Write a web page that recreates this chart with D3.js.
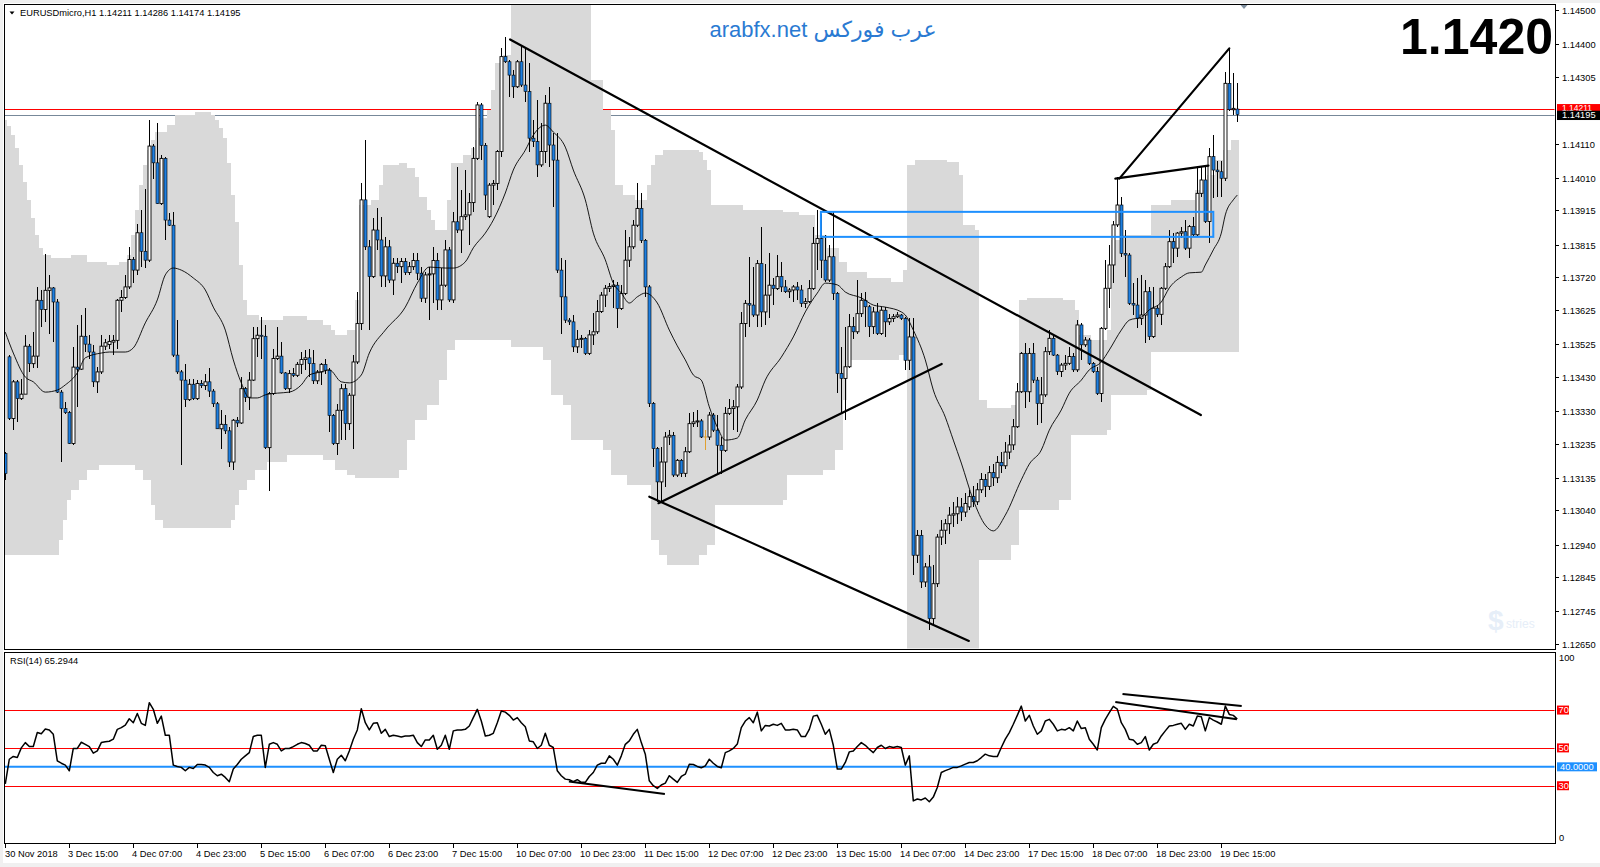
<!DOCTYPE html>
<html><head><meta charset="utf-8">
<script src="https://cdn.jsdelivr.net/npm/d3@7"></script>
<style>html,body{margin:0;padding:0;background:#fff}svg{display:block}</style>
</head><body>
<svg id="c" width="1600" height="867"></svg>
<script>
// ---------------- DATA (EURUSDmicro H1, bars from 30 Nov 23:00) ----------------
const open = [
1.13206,1.13488,1.13308,1.13415,1.13366,1.13379,1.13519,1.13468,1.13490,1.13653,
1.13626,1.13682,1.13689,1.13648,1.13385,1.13337,1.13325,1.13235,1.13458,1.13452,
1.13548,1.13525,1.13502,1.13415,1.13444,1.13519,1.13524,1.13531,1.13536,1.13653,
1.13661,1.13692,1.13772,1.13741,1.13850,1.13796,1.13770,1.14103,1.14054,1.13935,
1.14067,1.13887,1.13872,1.13493,1.13444,1.13420,1.13363,1.13408,1.13366,1.13410,
1.13404,1.13415,1.13388,1.13351,1.13278,1.13291,1.13272,1.13181,1.13303,1.13295,
1.13395,1.13370,1.13420,1.13541,1.13551,1.13548,1.13223,1.13381,1.13483,1.13490,
1.13441,1.13395,1.13439,1.13434,1.13466,1.13480,1.13485,1.13468,1.13418,1.13444,
1.13466,1.13449,1.13317,1.13235,1.13332,1.13395,1.13293,1.13376,1.13473,1.13585,
1.13946,1.13809,1.13722,1.13858,1.13829,1.13724,1.13809,1.13712,1.13761,1.13751,
1.13766,1.13734,1.13751,1.13769,1.13732,1.13659,1.13727,1.13730,1.13769,1.13654,
1.13697,1.13800,1.13654,1.13882,1.13858,1.13897,1.13902,1.13938,1.14067,1.14223,
1.14105,1.13897,1.13989,1.13994,1.14087,1.14364,1.14349,1.14310,1.14276,1.14349,
1.14281,1.14262,1.14126,1.14116,1.14048,1.14087,1.14228,1.14106,1.14062,1.13741,
1.13663,1.13595,1.13590,1.13517,1.13539,1.13542,1.13498,1.13552,1.13561,1.13620,
1.13668,1.13688,1.13693,1.13697,1.13629,1.13673,1.13770,1.13809,1.13872,1.13921,
1.13828,1.13692,1.13352,1.13220,1.13123,1.13181,1.13254,1.13259,1.13143,1.13186,
1.13148,1.13211,1.13293,1.13298,1.13301,1.13254,1.13254,1.13318,1.13274,1.13230,
1.13215,1.13323,1.13337,1.13342,1.13400,1.13585,1.13644,1.13639,1.13610,1.13760,
1.13619,1.13668,1.13697,1.13687,1.13722,1.13692,1.13678,1.13683,1.13692,1.13683,
1.13644,1.13649,1.13687,1.13819,1.13833,1.13770,1.13712,1.13780,1.13673,1.13439,
1.13425,1.13459,1.13576,1.13561,1.13614,1.13653,1.13634,1.13576,1.13619,1.13556,
1.13624,1.13590,1.13600,1.13605,1.13610,1.13600,1.13478,1.13546,1.12909,1.12967,
1.12831,1.12875,1.12724,1.12826,1.12962,1.12982,1.13001,1.13026,1.13030,1.13050,
1.13035,1.13050,1.13080,1.13065,1.13100,1.13130,1.13110,1.13150,1.13135,1.13180,
1.13170,1.13210,1.13231,1.13284,1.13386,1.13498,1.13386,1.13498,1.13420,1.13352,
1.13377,1.13503,1.13542,1.13493,1.13445,1.13464,1.13469,1.13489,1.13450,1.13581,
1.13523,1.13537,1.13469,1.13445,1.13381,1.13571,1.13688,1.13756,1.13873,1.13931,
1.13790,1.13785,1.13644,1.13639,1.13600,1.13610,1.13678,1.13547,1.13630,1.13612,
1.13688,1.13751,1.13824,1.13805,1.13849,1.13853,1.13805,1.13868,1.13844,1.13965,
1.14004,1.13883,1.14072,1.14033,1.14028,1.14009,1.14286,1.14209,1.14211];
const high = [
1.13210,1.13493,1.13420,1.13420,1.13424,1.13551,1.13525,1.13561,1.13692,1.13682,
1.13789,1.13726,1.13692,1.13658,1.13390,1.13356,1.13330,1.13517,1.13580,1.13609,
1.13629,1.13551,1.13522,1.13458,1.13551,1.13541,1.13551,1.13551,1.13658,1.13682,
1.13726,1.13809,1.13780,1.13877,1.13916,1.13979,1.14179,1.14110,1.14169,1.14076,
1.14072,1.13908,1.13911,1.13595,1.13449,1.13468,1.13424,1.13424,1.13420,1.13420,
1.13439,1.13454,1.13395,1.13356,1.13332,1.13317,1.13283,1.13308,1.13313,1.13429,
1.13400,1.13444,1.13575,1.13575,1.13604,1.13580,1.13385,1.13512,1.13575,1.13531,
1.13444,1.13449,1.13454,1.13473,1.13502,1.13507,1.13512,1.13507,1.13449,1.13470,
1.13483,1.13454,1.13322,1.13351,1.13410,1.13410,1.13381,1.13493,1.13677,1.13994,
1.14121,1.13829,1.13892,1.13921,1.13897,1.13839,1.13829,1.13775,1.13775,1.13775,
1.13775,1.13766,1.13790,1.13790,1.13751,1.13736,1.13751,1.13809,1.13790,1.13746,
1.13829,1.13809,1.13912,1.14043,1.13975,1.14033,1.13965,1.14101,1.14233,1.14228,
1.14111,1.13994,1.14004,1.14092,1.14388,1.14422,1.14354,1.14325,1.14354,1.14398,
1.14393,1.14345,1.14179,1.14237,1.14169,1.14252,1.14276,1.14140,1.14140,1.13775,
1.13771,1.13600,1.13610,1.13566,1.13552,1.13545,1.13566,1.13615,1.13654,1.13678,
1.13697,1.13702,1.13712,1.13707,1.13697,1.13858,1.13838,1.13887,1.13994,1.13965,
1.13833,1.13697,1.13356,1.13225,1.13225,1.13269,1.13274,1.13269,1.13191,1.13191,
1.13225,1.13323,1.13327,1.13332,1.13308,1.13274,1.13327,1.13323,1.13318,1.13254,
1.13342,1.13366,1.13361,1.13410,1.13619,1.13653,1.13780,1.13751,1.13770,1.13867,
1.13760,1.13790,1.13717,1.13785,1.13765,1.13712,1.13690,1.13697,1.13707,1.13697,
1.13660,1.13712,1.13867,1.13916,1.13906,1.13843,1.13814,1.13911,1.13678,1.13517,
1.13576,1.13614,1.13605,1.13712,1.13673,1.13678,1.13639,1.13634,1.13644,1.13634,
1.13634,1.13614,1.13614,1.13619,1.13614,1.13605,1.13600,1.13600,1.12982,1.12982,
1.12885,1.12909,1.12880,1.12972,1.13011,1.13016,1.13050,1.13065,1.13080,1.13075,
1.13090,1.13100,1.13110,1.13120,1.13150,1.13145,1.13170,1.13175,1.13200,1.13210,
1.13240,1.13260,1.13308,1.13411,1.13503,1.13527,1.13513,1.13527,1.13430,1.13430,
1.13518,1.13566,1.13552,1.13497,1.13469,1.13493,1.13518,1.13498,1.13595,1.13586,
1.13547,1.13542,1.13474,1.13459,1.13576,1.13771,1.13815,1.13883,1.14014,1.13955,
1.13858,1.13790,1.13703,1.13717,1.13727,1.13712,1.13693,1.13693,1.13639,1.13693,
1.13761,1.13858,1.13849,1.13853,1.13868,1.13888,1.13873,1.13897,1.14043,1.14043,
1.14043,1.14097,1.14136,1.14058,1.14058,1.14320,1.14388,1.14316,1.14286];
const low = [
1.13128,1.13303,1.13274,1.13298,1.13361,1.13379,1.13444,1.13454,1.13454,1.13575,
1.13590,1.13556,1.13531,1.13381,1.13181,1.13322,1.13233,1.13230,1.13342,1.13449,
1.13502,1.13483,1.13400,1.13381,1.13439,1.13507,1.13512,1.13493,1.13512,1.13619,
1.13658,1.13687,1.13702,1.13726,1.13750,1.13746,1.13765,1.14008,1.13933,1.13930,
1.13828,1.13869,1.13488,1.13439,1.13171,1.13342,1.13359,1.13363,1.13361,1.13398,
1.13390,1.13371,1.13342,1.13276,1.13220,1.13264,1.13167,1.13157,1.13283,1.13293,
1.13356,1.13332,1.13418,1.13488,1.13483,1.13220,1.13096,1.13376,1.13478,1.13439,
1.13390,1.13381,1.13429,1.13429,1.13439,1.13449,1.13429,1.13410,1.13410,1.13405,
1.13439,1.13269,1.13230,1.13201,1.13244,1.13244,1.13274,1.13220,1.13468,1.13566,
1.13800,1.13566,1.13717,1.13800,1.13693,1.13693,1.13702,1.13668,1.13732,1.13702,
1.13727,1.13727,1.13741,1.13712,1.13649,1.13644,1.13595,1.13644,1.13624,1.13624,
1.13693,1.13649,1.13644,1.13848,1.13790,1.13887,1.13814,1.13912,1.14062,1.14062,
1.13916,1.13892,1.13931,1.13975,1.14072,1.14345,1.14247,1.14242,1.14272,1.14276,
1.14233,1.14087,1.14101,1.14014,1.14043,1.14053,1.14043,1.13926,1.13732,1.13556,
1.13586,1.13580,1.13503,1.13498,1.13513,1.13493,1.13493,1.13522,1.13556,1.13615,
1.13634,1.13678,1.13629,1.13571,1.13624,1.13668,1.13751,1.13804,1.13867,1.13819,
1.13663,1.13342,1.13167,1.13065,1.13060,1.13109,1.13230,1.13138,1.13138,1.13138,
1.13138,1.13206,1.13284,1.13284,1.13250,1.13215,1.13245,1.13269,1.13147,1.13147,
1.13211,1.13318,1.13274,1.13269,1.13395,1.13546,1.13576,1.13605,1.13576,1.13576,
1.13580,1.13600,1.13639,1.13682,1.13678,1.13673,1.13660,1.13649,1.13653,1.13634,
1.13630,1.13644,1.13683,1.13741,1.13717,1.13707,1.13707,1.13653,1.13381,1.13323,
1.13303,1.13455,1.13541,1.13556,1.13605,1.13576,1.13546,1.13556,1.13551,1.13551,
1.13546,1.13580,1.13590,1.13600,1.13595,1.13449,1.13449,1.12851,1.12885,1.12812,
1.12817,1.12690,1.12705,1.12817,1.12938,1.12943,1.12972,1.12992,1.13000,1.13010,
1.13020,1.13040,1.13050,1.13055,1.13090,1.13080,1.13100,1.13110,1.13120,1.13150,
1.13160,1.13190,1.13216,1.13279,1.13381,1.13338,1.13357,1.13411,1.13289,1.13294,
1.13372,1.13493,1.13489,1.13435,1.13430,1.13450,1.13464,1.13445,1.13445,1.13479,
1.13518,1.13464,1.13440,1.13377,1.13357,1.13566,1.13630,1.13703,1.13868,1.13780,
1.13722,1.13639,1.13610,1.13571,1.13581,1.13527,1.13537,1.13542,1.13605,1.13581,
1.13683,1.13746,1.13761,1.13780,1.13834,1.13800,1.13775,1.13839,1.13839,1.13955,
1.13878,1.13819,1.13950,1.13955,1.13955,1.14000,1.14204,1.14194,1.14174];
const close = [
1.13147,1.13308,1.13415,1.13366,1.13379,1.13519,1.13468,1.13490,1.13653,1.13626,
1.13682,1.13689,1.13648,1.13385,1.13337,1.13325,1.13235,1.13458,1.13452,1.13548,
1.13525,1.13502,1.13415,1.13444,1.13519,1.13529,1.13533,1.13536,1.13653,1.13661,
1.13692,1.13772,1.13741,1.13850,1.13796,1.13770,1.14103,1.14054,1.13935,1.14067,
1.13887,1.13872,1.13493,1.13444,1.13420,1.13363,1.13408,1.13366,1.13410,1.13404,
1.13415,1.13388,1.13351,1.13278,1.13291,1.13272,1.13181,1.13303,1.13295,1.13395,
1.13370,1.13420,1.13541,1.13551,1.13548,1.13223,1.13381,1.13483,1.13490,1.13441,
1.13395,1.13439,1.13434,1.13466,1.13480,1.13485,1.13468,1.13418,1.13444,1.13466,
1.13449,1.13317,1.13235,1.13332,1.13395,1.13293,1.13376,1.13473,1.13585,1.13946,
1.13809,1.13722,1.13858,1.13829,1.13724,1.13809,1.13712,1.13761,1.13751,1.13766,
1.13734,1.13751,1.13769,1.13732,1.13659,1.13727,1.13730,1.13769,1.13654,1.13697,
1.13800,1.13654,1.13882,1.13858,1.13897,1.13902,1.13938,1.14067,1.14223,1.14105,
1.13960,1.13989,1.13994,1.14087,1.14364,1.14349,1.14310,1.14276,1.14349,1.14281,
1.14262,1.14126,1.14116,1.14048,1.14087,1.14228,1.14106,1.14062,1.13741,1.13663,
1.13595,1.13590,1.13517,1.13539,1.13542,1.13498,1.13552,1.13561,1.13620,1.13668,
1.13688,1.13693,1.13697,1.13629,1.13673,1.13770,1.13809,1.13872,1.13921,1.13828,
1.13692,1.13352,1.13220,1.13123,1.13181,1.13254,1.13259,1.13143,1.13186,1.13148,
1.13211,1.13293,1.13298,1.13301,1.13254,1.13254,1.13318,1.13274,1.13230,1.13215,
1.13323,1.13337,1.13342,1.13400,1.13585,1.13644,1.13639,1.13610,1.13760,1.13619,
1.13668,1.13697,1.13687,1.13722,1.13692,1.13678,1.13683,1.13692,1.13683,1.13644,
1.13649,1.13687,1.13819,1.13833,1.13770,1.13712,1.13780,1.13673,1.13439,1.13425,
1.13459,1.13576,1.13561,1.13614,1.13653,1.13634,1.13576,1.13619,1.13556,1.13624,
1.13590,1.13600,1.13605,1.13610,1.13600,1.13478,1.13546,1.12909,1.12967,1.12831,
1.12875,1.12724,1.12826,1.12962,1.12982,1.13001,1.13026,1.13030,1.13050,1.13035,
1.13060,1.13080,1.13065,1.13100,1.13130,1.13110,1.13150,1.13135,1.13180,1.13170,
1.13210,1.13231,1.13284,1.13386,1.13498,1.13386,1.13498,1.13420,1.13352,1.13377,
1.13503,1.13542,1.13493,1.13445,1.13464,1.13469,1.13489,1.13450,1.13581,1.13523,
1.13537,1.13469,1.13445,1.13381,1.13571,1.13688,1.13756,1.13873,1.13931,1.13790,
1.13785,1.13644,1.13639,1.13600,1.13610,1.13678,1.13547,1.13630,1.13612,1.13688,
1.13751,1.13824,1.13805,1.13849,1.13853,1.13805,1.13868,1.13844,1.13965,1.14004,
1.13883,1.14072,1.14033,1.14028,1.14009,1.14286,1.14209,1.14213,1.14195];

// moving average read at sampled bars
const maIdx = [0,2,5,7,10,13,15,18,20,24,26,30,32,35,38,40,42,44,47,50,52,55,57,59,61,63,65,68,71,74,76,79,81,84,86,89,91,95,100,103,106,110,112,115,117,120,122,125,127,130,132,135,137,140,142,145,147,150,152,154,156,158,160,163,166,168,170,172,174,176,178,180,183,185,188,190,194,197,200,203,205,208,210,214,217,220,224,225,227,230,232,235,237,239,242,245,247,250,254,256,259,261,264,266,269,271,274,276,279,281,284,286,289,291,294,296,299,300,302,304,305,307,308];
const maVal = [1.13560,1.13499,1.13429,1.13415,1.13385,1.13391,1.13406,1.13441,1.13485,1.13499,1.13502,1.13502,1.13514,1.13587,1.13654,1.13727,1.13747,1.13741,1.13718,1.13683,1.13633,1.13566,1.13479,1.13412,1.13368,1.13368,1.13377,1.13382,1.13385,1.13406,1.13435,1.13444,1.13450,1.13415,1.13412,1.13435,1.13499,1.13566,1.13633,1.13703,1.13750,1.13747,1.13747,1.13765,1.13806,1.13849,1.13887,1.13966,1.14033,1.14091,1.14135,1.14164,1.14144,1.14100,1.14033,1.13946,1.13849,1.13771,1.13703,1.13674,1.13645,1.13663,1.13674,1.13645,1.13566,1.13520,1.13479,1.13435,1.13420,1.13342,1.13283,1.13245,1.13251,1.13304,1.13362,1.13420,1.13487,1.13546,1.13619,1.13674,1.13703,1.13698,1.13677,1.13660,1.13639,1.13633,1.13619,1.13610,1.13566,1.13479,1.13391,1.13312,1.13245,1.13178,1.13070,1.12997,1.12980,1.13026,1.13129,1.13175,1.13216,1.13274,1.13333,1.13382,1.13420,1.13450,1.13473,1.13508,1.13566,1.13595,1.13604,1.13625,1.13648,1.13689,1.13721,1.13733,1.13735,1.13756,1.13800,1.13849,1.13902,1.13946,1.13960];

// shaded band: [first bar, price] runs (upper edge / lower edge)
const bandHiRuns = [[0,1.14179],[1,1.14161],[2,1.14135],[3,1.14097],[4,1.14048],[5,1.13998],[6,1.13946],[7,1.13893],[8,1.13843],[9,1.13806],[10,1.13785],[12,1.13776],[17,1.13785],[21,1.13765],[26,1.13756],[29,1.13765],[31,1.13785],[32,1.13843],[33,1.13916],[34,1.13989],[35,1.14048],[36,1.14091],[37,1.14121],[38,1.14144],[41,1.14164],[43,1.14194],[48,1.14202],[52,1.14194],[53,1.14179],[54,1.14156],[55,1.14127],[56,1.14054],[57,1.13960],[58,1.13882],[59,1.13756],[60,1.13654],[61,1.13610],[64,1.13595],[70,1.13607],[76,1.13595],[80,1.13581],[82,1.13566],[83,1.13552],[86,1.13566],[88,1.13654],[89,1.13931],[92,1.13946],[94,1.13989],[95,1.14048],[99,1.14054],[101,1.14039],[103,1.14013],[104,1.13955],[106,1.13916],[107,1.13887],[108,1.13858],[111,1.13946],[112,1.14054],[115,1.14077],[117,1.14097],[118,1.14121],[119,1.14156],[120,1.14185],[121,1.14208],[122,1.14266],[123,1.14345],[125,1.14368],[127,1.14600],[147,1.14296],[150,1.14208],[152,1.14150],[153,1.13989],[155,1.13960],[158,1.13946],[161,1.13989],[162,1.14048],[163,1.14077],[165,1.14091],[174,1.14085],[175,1.14062],[176,1.14033],[177,1.13931],[185,1.13916],[195,1.13911],[199,1.13902],[203,1.13843],[206,1.13806],[209,1.13765],[211,1.13735],[216,1.13718],[222,1.13706],[225,1.13741],[226,1.14048],[228,1.14062],[236,1.14056],[239,1.14019],[240,1.13873],[243,1.13858],[244,1.13362],[246,1.13339],[252,1.13347],[254,1.13654],[256,1.13660],[265,1.13654],[268,1.13625],[269,1.13552],[272,1.13537],[276,1.13566],[277,1.13829],[280,1.13843],[287,1.13931],[292,1.13946],[298,1.13975],[301,1.14019],[303,1.14062],[305,1.14091],[307,1.14121]];
const bandLoRuns = [[0,1.12910],[14,1.12953],[15,1.13012],[16,1.13070],[17,1.13099],[19,1.13129],[21,1.13158],[24,1.13172],[33,1.13158],[35,1.13129],[37,1.13056],[38,1.13012],[40,1.12988],[57,1.13012],[58,1.13056],[59,1.13099],[61,1.13129],[63,1.13158],[66,1.13181],[71,1.13201],[80,1.13187],[83,1.13158],[86,1.13143],[88,1.13134],[99,1.13158],[101,1.13245],[103,1.13304],[106,1.13347],[109,1.13420],[111,1.13508],[113,1.13537],[127,1.13517],[135,1.13479],[137,1.13377],[140,1.13347],[142,1.13245],[150,1.13216],[152,1.13143],[156,1.13114],[162,1.12953],[164,1.12910],[166,1.12881],[174,1.12910],[176,1.12939],[178,1.13056],[195,1.13070],[196,1.13143],[205,1.13158],[208,1.13216],[210,1.13362],[211,1.13479],[224,1.13493],[226,1.12600],[244,1.12895],[252,1.12939],[254,1.13041],[264,1.13070],[267,1.13260],[276,1.13274],[277,1.13377],[286,1.13391],[287,1.13502]];

// RSI(14) per bar
const rsiVal = [
31,44,45.5,44.9,50,52.8,50.7,50.7,58.1,57.5,
60,59.5,57.2,43.2,41.9,40.9,37.9,49.7,49.7,53,
51.9,50.7,47.2,48.4,52.8,53.2,53.5,54.6,59.8,60.7,
62,65.4,63.3,68.2,63,61.9,73.9,70.4,63,66.8,
56.7,56.7,40.9,40.2,39.7,37.9,39.7,39.1,41.2,41.2,
40.9,39.7,37,35.3,36.1,34.4,32.1,38.8,41.2,44,
45.8,47.5,56,56.7,56.7,39.7,51.9,52.8,51.9,48.4,
49.7,49.7,50.7,51.9,52.8,52.3,51.4,48.4,48.4,51.4,
51.1,44,37,44,46.1,43.2,48.4,54.6,59.5,70.7,
63.3,59.5,63,63.3,57.7,59.8,56,56.7,56.3,55.8,
56.3,56.3,56.7,52.8,50.7,54.2,54.2,56.7,49.3,51.4,
56.7,49.3,59,59.5,59.5,59.8,61.6,66,70.4,64.2,
56.3,56.7,57.7,63.3,69.5,68.9,67.2,64.7,66,63.3,
61.2,53.7,53.2,49.7,51.4,57.7,51.4,50.2,37.9,35.3,
33.5,33.2,32.1,33.2,31.8,31.8,34.9,37,40.9,41.9,
41.9,45.8,44,40.9,45.8,51.9,53.7,57.2,59.8,52.8,
46.7,32.6,30,28.6,30.4,31.4,35.3,33.5,31.8,34.9,
36.1,41.4,41.2,40.2,39.5,40.5,44,41.9,40.2,39.5,
47.5,48.4,49.7,52,60.7,64.2,66,63.3,68.9,59,
61.9,61.6,62.5,61.9,63,59.5,59.5,59.8,59.5,56,
56,59.8,66.8,67.2,62.5,57.2,59.8,51.4,38.8,38.8,
42.3,47.9,48.4,50.7,52.8,51.4,49.3,47.5,50.2,51.4,
49.7,50.7,50.2,50.7,50.2,40.9,45.8,22,23,22.5,
23.5,21.5,24,29.1,37,38,38.8,39.7,39.7,40.5,
41.4,42.3,42.3,43.2,44.9,46.7,45.8,45.4,45.4,50.2,
54.6,58.1,62.5,67.2,72.1,64.2,67.2,61.6,57.2,59,
64.2,65.1,62.5,59,59.8,59.5,60.7,59,64.2,60.2,
60.7,54.6,51.9,48.9,60.7,65.1,68.6,72,70.5,63.3,
59.8,54.6,54.2,51.9,52.8,56,48.9,51.9,52.8,56.3,
59,61.6,61.9,62.5,63,59.8,62.5,61.6,66.8,66.5,
59,66,64.7,63.7,62.5,72.1,67.7,67.2,65.3];

const priceTicks = [1.14500,1.14400,1.14305,1.14110,1.14010,1.13915,1.13815,1.13720,1.13625,1.13525,1.13430,1.13330,1.13235,1.13135,1.13040,1.12940,1.12845,1.12745,1.12650];
const timeTickIdx = [0,16,32,48,64,80,96,112,128,144,160,176,192,208,224,240,256,272,288,304];
const timeTickLabels = ["30 Nov 2018","3 Dec 15:00","4 Dec 07:00","4 Dec 23:00","5 Dec 15:00","6 Dec 07:00","6 Dec 23:00","7 Dec 15:00","10 Dec 07:00","10 Dec 23:00","11 Dec 15:00","12 Dec 07:00","12 Dec 23:00","13 Dec 15:00","14 Dec 07:00","14 Dec 23:00","17 Dec 15:00","18 Dec 07:00","18 Dec 23:00","19 Dec 15:00"];
const rsiRedLevels = [70,50,30];
const rsiBlueLevel = 40;
const askPrice = 1.14211, bidPrice = 1.14195;
const headerText = "EURUSDmicro,H1  1.14211 1.14286 1.14174 1.14195";
const rsiTitle = "RSI(14) 65.2944";
// drawn objects (bar index / price)
const trendLines = [[126.2,1.14414,298.9,1.13318],[161.0,1.13080,240.9,1.12659],[163.3,1.13061,234.1,1.13467],[277.5,1.14008,300.8,1.14046],[278.5,1.14008,306.0,1.14388]];
const zoneRect = [203.9,1.13911,302.0,1.13838];
const rsiLines = [[140.9,32.3,164.9,25.6],[279.3,78.5,309.1,72.1],[277.5,74.3,307.9,65.1]];

// ---------------- DRAW ----------------
const F = "'Liberation Sans', Arial, sans-serif";
const svg = d3.select("#c");
const plotL = 4, plotR = 1555, mainT = 4, mainB = 649, rsiT = 652, rsiB = 843;

const x = d3.scaleLinear().domain([0, 308]).range([5.3, 1237.3]);
const y = d3.scaleLinear().domain([1.1265, 1.1450]).range([644, 10]);
const yR = d3.scaleLinear().domain([0, 100]).range([842.5, 653.3]);

svg.append("rect").attr("width",1600).attr("height",867).attr("fill","#f0f0f0");
svg.append("rect").attr("x",3).attr("y",3).attr("width",1597).attr("height",860).attr("fill","#fff");

const defs = svg.append("defs");
defs.append("clipPath").attr("id","cm").append("rect").attr("x",plotL+0.5).attr("y",mainT+0.5).attr("width",plotR-plotL-1).attr("height",mainB-mainT-1);
defs.append("clipPath").attr("id","cr").append("rect").attr("x",plotL+0.5).attr("y",rsiT+0.5).attr("width",plotR-plotL-1).attr("height",rsiB-rsiT-1);

const gm = svg.append("g").attr("clip-path","url(#cm)");

// price lines (behind indicator)
gm.append("line").attr("x1",plotL).attr("x2",plotR).attr("y1",Math.round(y(askPrice))+0.5).attr("y2",Math.round(y(askPrice))+0.5).attr("stroke","#ff0000").attr("stroke-width",1);
gm.append("line").attr("x1",plotL).attr("x2",plotR).attr("y1",Math.round(y(bidPrice))+0.5).attr("y2",Math.round(y(bidPrice))+0.5).attr("stroke","#778899").attr("stroke-width",1);

// band
function runVal(runs, i){ let v = runs[0][1]; for (const r of runs){ if (r[0] <= i) v = r[1]; else break; } return v; }
const bandPts = d3.range(open.length).map(i => ({x: x(i)-2, hi: runVal(bandHiRuns,i), lo: runVal(bandLoRuns,i)}));
bandPts.push({x: x(open.length-1)+2, hi: bandPts[bandPts.length-1].hi, lo: bandPts[bandPts.length-1].lo});
gm.append("path").attr("d", d3.area().x(d=>d.x).y0(d=>y(d.lo)).y1(d=>y(d.hi)).curve(d3.curveStepAfter)(bandPts))
  .attr("fill","#d9d9d9").attr("shape-rendering","crispEdges");

// candles
const cg = gm.append("g");
for (let i = 0; i < open.length; i++){
  const cx = Math.round(x(i)) + 0.5;
  const o = open[i], c = close[i], h = high[i], l = low[i];
  const doji = o === c;
  cg.append("line").attr("x1",cx).attr("x2",cx).attr("y1",y(h)).attr("y2",y(l))
    .attr("stroke", doji ? "#e0a030" : "#000").attr("stroke-width",1).attr("shape-rendering","crispEdges");
  if (doji){
    cg.append("line").attr("x1",cx-1.5).attr("x2",cx+1.5).attr("y1",y(o)).attr("y2",y(o)).attr("stroke","#e0a030").attr("stroke-width",1);
    continue;
  }
  const top = y(Math.max(o,c)), bot = y(Math.min(o,c));
  const bull = c > o;
  cg.append("rect").attr("x",cx-1.5).attr("y",top).attr("width",3).attr("height",Math.max(1,bot-top))
    .attr("fill", bull ? "#ffffff" : "#1e7fe0")
    .attr("stroke","#000").attr("stroke-width", bull ? 0.9 : 0.6);
}

// moving average
const maData = maIdx.map((d,k)=>({i:d, v:maVal[k]}));
gm.append("path").attr("d", d3.line().x(d=>x(d.i)).y(d=>y(d.v)).curve(d3.curveMonotoneX)(maData))
  .attr("fill","none").attr("stroke","#000").attr("stroke-width",0.9);

// objects
trendLines.forEach(t => {
  gm.append("line").attr("x1",x(t[0])).attr("y1",y(t[1])).attr("x2",x(t[2])).attr("y2",y(t[3]))
    .attr("stroke","#000").attr("stroke-width",2.2).attr("stroke-linecap","round");
});
gm.append("rect").attr("x",x(zoneRect[0])).attr("y",y(zoneRect[1])).attr("width",x(zoneRect[2])-x(zoneRect[0])).attr("height",y(zoneRect[3])-y(zoneRect[1]))
  .attr("fill","none").attr("stroke","#1e90ff").attr("stroke-width",2);

// watermark
gm.append("text").attr("x",1488).attr("y",630).attr("font-family",F).attr("font-size",28).attr("font-weight","bold").attr("fill","#e6eef8").text("$");
gm.append("text").attr("x",1506).attr("y",628).attr("font-family",F).attr("font-size",12).attr("fill","#e6eef8").text("stries");

// ---------------- RSI pane ----------------
const gr = svg.append("g").attr("clip-path","url(#cr)");
rsiRedLevels.forEach(v => {
  gr.append("line").attr("x1",plotL).attr("x2",plotR).attr("y1",Math.round(yR(v))+0.5).attr("y2",Math.round(yR(v))+0.5).attr("stroke","#ff0000").attr("stroke-width",1);
});
gr.append("line").attr("x1",plotL).attr("x2",plotR).attr("y1",yR(rsiBlueLevel)).attr("y2",yR(rsiBlueLevel)).attr("stroke","#1e90ff").attr("stroke-width",2);
gr.append("path").attr("d", d3.line().x((d,i)=>x(i)).y(d=>yR(d))(rsiVal))
  .attr("fill","none").attr("stroke","#000").attr("stroke-width",1.5).attr("stroke-linejoin","round");
rsiLines.forEach(t => {
  gr.append("line").attr("x1",x(t[0])).attr("y1",yR(t[1])).attr("x2",x(t[2])).attr("y2",yR(t[3]))
    .attr("stroke","#000").attr("stroke-width",2);
});
svg.append("text").attr("x",10).attr("y",664).attr("font-family",F).attr("font-size",9.3).attr("fill","#000").text(rsiTitle);

// ---------------- borders ----------------
const bd = svg.append("g").attr("fill","none").attr("stroke","#000").attr("stroke-width",1).attr("shape-rendering","crispEdges");
bd.append("rect").attr("x",plotL+0.5).attr("y",mainT+0.5).attr("width",plotR-plotL).attr("height",mainB-mainT);
bd.append("rect").attr("x",plotL+0.5).attr("y",rsiT+0.5).attr("width",plotR-plotL).attr("height",rsiB-rsiT);

// ---------------- price axis ----------------
const ax = svg.append("g").attr("font-family",F).attr("font-size",9.3);
priceTicks.forEach(p => {
  const yy = Math.round(y(p)) + 0.5;
  ax.append("line").attr("x1",plotR+0.5).attr("x2",plotR+4).attr("y1",yy).attr("y2",yy).attr("stroke","#000").attr("shape-rendering","crispEdges");
  ax.append("text").attr("x",1562).attr("y",yy+3.3).attr("fill","#000").text(p.toFixed(5));
});
// ask / bid labels (ask label partly hidden behind bid label, as in the terminal)
ax.append("rect").attr("x",1557).attr("y",y(askPrice)-5).attr("width",43).attr("height",10).attr("fill","#ff0000");
ax.append("text").attr("x",1562).attr("y",y(askPrice)+1.5).attr("font-size",8.5).attr("fill","#fff").text(askPrice.toFixed(5));
ax.append("rect").attr("x",1557).attr("y",y(bidPrice)-3.8).attr("width",43).attr("height",9.3).attr("fill","#000");
ax.append("text").attr("x",1562).attr("y",y(bidPrice)+3.6).attr("fill","#fff").text(bidPrice.toFixed(5));

// RSI axis
ax.append("text").attr("x",1559).attr("y",yR(100)+8).attr("fill","#000").text("100");
ax.append("text").attr("x",1559).attr("y",yR(0)-2).attr("fill","#000").text("0");
rsiRedLevels.forEach(v => {
  ax.append("rect").attr("x",1557).attr("y",yR(v)-4.5).attr("width",12).attr("height",9).attr("fill","#ff0000");
  ax.append("text").attr("x",1558.5).attr("y",yR(v)+3.3).attr("fill","#fff").text(String(v));
});
ax.append("rect").attr("x",1557).attr("y",yR(rsiBlueLevel)-4.5).attr("width",40).attr("height",9).attr("fill","#1e90ff");
ax.append("text").attr("x",1560).attr("y",yR(rsiBlueLevel)+3.3).attr("fill","#fff").text(rsiBlueLevel.toFixed(4));

// ---------------- time axis ----------------
timeTickIdx.forEach((b,k) => {
  const xx = Math.round(x(b)) + 0.5;
  ax.append("line").attr("x1",xx).attr("x2",xx).attr("y1",rsiB+0.5).attr("y2",rsiB+5).attr("stroke","#000").attr("shape-rendering","crispEdges");
  ax.append("text").attr("x", k===0 ? 5 : xx-1.5).attr("y",857).attr("fill","#000").text(timeTickLabels[k]);
});

// ---------------- header texts ----------------
svg.append("path").attr("d","M9.5,11.5 L14.5,11.5 L12,14.5 Z").attr("fill","#000");
svg.append("text").attr("x",20).attr("y",15.5).attr("font-family",F).attr("font-size",9.3).attr("fill","#000").text(headerText);
svg.append("text").attr("x",823).attr("y",37).attr("text-anchor","middle").attr("font-family","'Liberation Sans','DejaVu Sans',sans-serif").attr("font-size",22).attr("fill","#2a7ad2").text("arabfx.net عرب فوركس");
svg.append("text").attr("x",1553).attr("y",54).attr("text-anchor","end").attr("font-family",F).attr("font-weight","bold").attr("font-size",50).attr("fill","#000").text("1.1420");
svg.append("path").attr("d","M1240.5,5 L1247.5,5 L1244,9 Z").attr("fill","#8090a0");
</script>
</body></html>
